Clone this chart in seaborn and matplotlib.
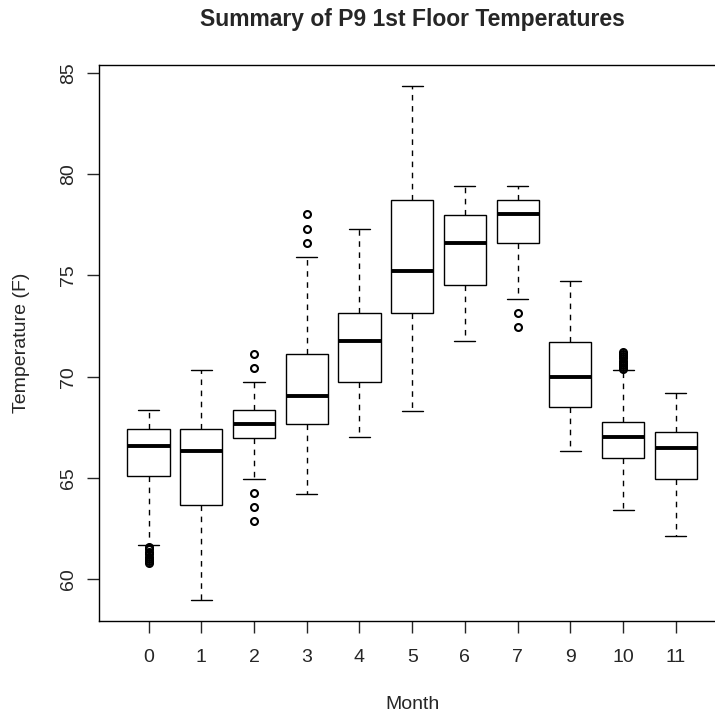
import numpy as np
import pandas as pd
import matplotlib
matplotlib.use("Agg")
import matplotlib.pyplot as plt
import seaborn as sns

# box summaries (deg F)
months = ["0", "1", "2", "3", "4", "5", "6", "7", "9", "10", "11"]
whisker_low = [61.68, 58.96, 64.94, 64.23, 67.00, 68.33, 71.76, 73.83, 66.34, 63.41, 62.14]
q1 = [65.09, 63.69, 66.98, 67.66, 69.75, 73.16, 74.51, 76.62, 68.52, 66.00, 64.97]
median = [66.57, 66.34, 67.66, 69.04, 71.76, 75.22, 76.62, 78.02, 69.98, 67.03, 66.46]
q3 = [67.40, 67.40, 68.35, 71.10, 73.16, 78.71, 78.00, 78.71, 71.73, 67.75, 67.28]
whisker_high = [68.38, 70.33, 69.72, 75.93, 77.29, 84.37, 79.40, 79.40, 74.74, 70.35, 69.21]
outliers = {
    "0": [61.60, 61.48, 61.36, 61.24, 61.12, 61.00, 60.88, 60.78],
    "2": [71.10, 70.45, 64.26, 63.57, 62.87],
    "3": [78.02, 77.29, 76.62],
    "7": [73.16, 72.47],
    "10": [70.40, 70.50, 70.60, 70.70, 70.80, 70.90, 71.00, 71.10, 71.20],
}

# rebuild samples whose quartiles / whisker ends equal the summaries above
N_REP = 40
rows = []
for i, m in enumerate(months):
    vals = np.repeat([whisker_low[i], q1[i], median[i], q3[i], whisker_high[i]], N_REP)
    vals = np.concatenate([vals, outliers.get(m, [])])
    rows.append(pd.DataFrame({"month": m, "temp": vals}))
df = pd.concat(rows, ignore_index=True)

sns.set_style("ticks")
plt.rcParams["font.family"] = ["Liberation Sans", "DejaVu Sans"]

W = 715
fig = plt.figure(figsize=(7.15, 7.15), dpi=100)
ax = fig.add_axes([99 / W, 1 - 621 / W, 626.4 / W, 556 / W])

sns.boxplot(data=df, x="month", y="temp", order=months, width=0.8,
            color="white", linecolor="black", linewidth=1, fliersize=5,
            whis=1.5, ax=ax,
            medianprops=dict(linewidth=2.8, color="black"),
            whiskerprops=dict(linestyle=(0, (4, 4))),
            flierprops=dict(marker="o", markerfacecolor="none",
                            markeredgecolor="black", markeredgewidth=1.5))

ax.set_xlim(-0.94, 10.94)
ax.set_ylim(57.94, 85.39)
ax.set_yticks([60, 65, 70, 75, 80, 85])
for s in ax.spines.values():
    s.set_visible(True)
    s.set_linewidth(1)
    s.set_color("black")

ax.tick_params(axis="both", direction="out", length=8.5, width=1, labelsize=14)
ax.tick_params(axis="x", pad=12)
ax.tick_params(axis="y", pad=7)
for lab in ax.get_yticklabels():
    lab.set_rotation(90)
    lab.set_va("center")

ax.set_xlabel("Month", fontsize=14)
ax.set_ylabel("Temperature (F)", fontsize=14)
ax.xaxis.set_label_coords(0.5, -0.135)
ax.xaxis.label.set_va("top")
ax.yaxis.set_label_coords(-0.110, 0.5)
ax.set_title("Summary of P9 1st Floor Temperatures", fontsize=16.5,
             fontweight="bold", y=1.081, va="center", pad=0)

fig.savefig("out.png", dpi=100)
